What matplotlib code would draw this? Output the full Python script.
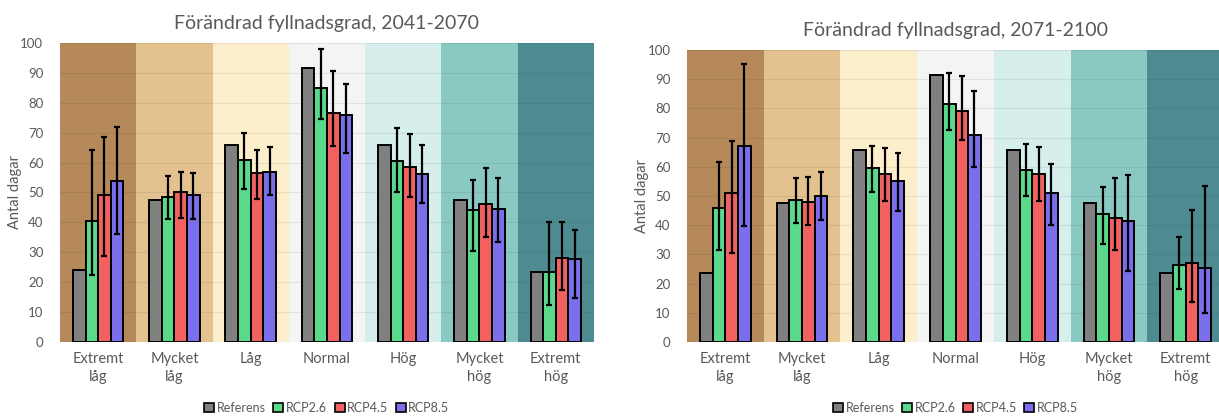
import matplotlib
matplotlib.use("Agg")
import matplotlib.pyplot as plt
from matplotlib.patches import Patch

plt.rcParams["font.family"] = ["Lato", "DejaVu Sans"]

# Kategorier för fyllnadsgrad
categories = ["Extremt\nlåg", "Mycket\nlåg", "Låg", "Normal", "Hög", "Mycket\nhög", "Extremt\nhög"]
series = ["Referens", "RCP2.6", "RCP4.5", "RCP8.5"]

# --- 2041-2070 ---
ref_2041 = [24, 47.5, 66, 91.5, 66, 47.5, 23.5]
rcp26_2041 = [40.5, 48.5, 61, 85, 60.5, 44, 23.3]
rcp45_2041 = [49, 50, 56.5, 76.5, 58.5, 46.3, 28]
rcp85_2041 = [54, 49, 57, 76, 56.3, 44.6, 27.6]
rcp26_2041_lo = [22.5, 41, 51, 74.5, 50.3, 30.3, 12.5]
rcp26_2041_hi = [64.3, 55.5, 70, 98, 71.5, 54.2, 40]
rcp45_2041_lo = [28.7, 41.5, 47.8, 65.5, 48.5, 35.2, 17.3]
rcp45_2041_hi = [68.7, 57, 64.3, 90.5, 69.4, 58.3, 40]
rcp85_2041_lo = [36, 41, 49, 63.3, 46.5, 33.4, 14.7]
rcp85_2041_hi = [71.8, 56.5, 65.2, 86.2, 65.8, 54.7, 37.3]

# --- 2071-2100 ---
ref_2071 = [23.6, 47.6, 65.7, 91.4, 65.7, 47.5, 23.5]
rcp26_2071 = [45.8, 48.8, 59.6, 81.5, 59, 44, 26.5]
rcp45_2071 = [51.2, 48, 57.6, 79.2, 57.7, 42.4, 27]
rcp85_2071 = [67, 50, 55, 71, 51.1, 41.6, 25.3]
rcp26_2071_lo = [31.5, 40.8, 51.3, 72.6, 50.1, 33.6, 18.1]
rcp26_2071_hi = [61.5, 56.3, 67.2, 92, 67.7, 53.2, 35.9]
rcp45_2071_lo = [30.5, 40, 48.2, 69.2, 48.3, 31.6, 13.8]
rcp45_2071_hi = [68.8, 56.6, 66.6, 91.1, 66.7, 56.3, 45.3]
rcp85_2071_lo = [39.7, 41.8, 44.8, 59.9, 40.1, 24.2, 10.1]
rcp85_2071_hi = [95.3, 58.3, 64.6, 86, 61, 57.2, 53.3]

band_colors = ["#B5895A", "#E3C28F", "#FCEDCB", "#F4F4F4", "#D6EEEC", "#89C9C2", "#4E8B91"]
bar_colors = ["#808080", "#5AD98A", "#F0615F", "#7B6EEA"]
text_color = "#595959"


def draw_panel(ax, title, values, lows, highs):
    n = len(categories)
    width = 0.165
    # Bakgrundsband, ett per kategori
    for i, c in enumerate(band_colors):
        ax.axvspan(i - 0.5, i + 0.5, color=c, lw=0, zorder=0)
    for y in range(10, 101, 10):
        ax.axhline(y, color="black", alpha=0.07, lw=0.8, zorder=1)
    for k, vals in enumerate(values):
        xs = [i + (k - 1.5) * width for i in range(n)]
        ax.bar(xs, vals, width=width, color=bar_colors[k], edgecolor="black",
               linewidth=1.4, zorder=2)
        if k > 0:
            lo = [v - l for v, l in zip(vals, lows[k - 1])]
            hi = [h - v for v, h in zip(vals, highs[k - 1])]
            ax.errorbar(xs, vals, yerr=[lo, hi], fmt="none", ecolor="black",
                        elinewidth=1.6, capsize=2.2, capthick=1.6, zorder=3)
    ax.set_xlim(-0.5, n - 0.5)
    ax.set_ylim(0, 100)
    ax.set_yticks(range(0, 101, 10))
    ax.set_xticks(range(n))
    ax.set_xticklabels(categories, fontsize=10.5, color=text_color, linespacing=1.4)
    ax.tick_params(axis="y", labelsize=9.5, labelcolor=text_color, length=0, pad=12)
    ax.tick_params(axis="x", length=0, pad=7)
    for s in ax.spines.values():
        s.set_visible(False)
    ax.set_ylabel("Antal dagar", fontsize=10.5, color=text_color, labelpad=-1)
    ax.set_title(title, fontsize=14, color=text_color, pad=10)
    # Förklaring under diagrammet
    h_px = ax.get_position().height * 420
    handles = [Patch(facecolor=c, edgecolor="black", lw=1.2) for c in bar_colors]
    ax.legend(handles, series, loc="center", bbox_to_anchor=(0.5, -66 / h_px),
              ncol=4, frameon=False, fontsize=9, labelcolor=text_color, borderpad=0,
              handlelength=0.8, handleheight=0.8, handletextpad=0.2, columnspacing=0.6)


fig = plt.figure(figsize=(12.19, 4.2), dpi=100)
ax1 = fig.add_axes([0.0492, 0.1857, 0.438, 0.712])
ax2 = fig.add_axes([0.5636, 0.1857, 0.4405, 0.695])

draw_panel(ax1, "Förändrad fyllnadsgrad, 2041-2070",
           [ref_2041, rcp26_2041, rcp45_2041, rcp85_2041],
           [rcp26_2041_lo, rcp45_2041_lo, rcp85_2041_lo],
           [rcp26_2041_hi, rcp45_2041_hi, rcp85_2041_hi])
draw_panel(ax2, "Förändrad fyllnadsgrad, 2071-2100",
           [ref_2071, rcp26_2071, rcp45_2071, rcp85_2071],
           [rcp26_2071_lo, rcp45_2071_lo, rcp85_2071_lo],
           [rcp26_2071_hi, rcp45_2071_hi, rcp85_2071_hi])

fig.savefig("out.png", dpi=100)
